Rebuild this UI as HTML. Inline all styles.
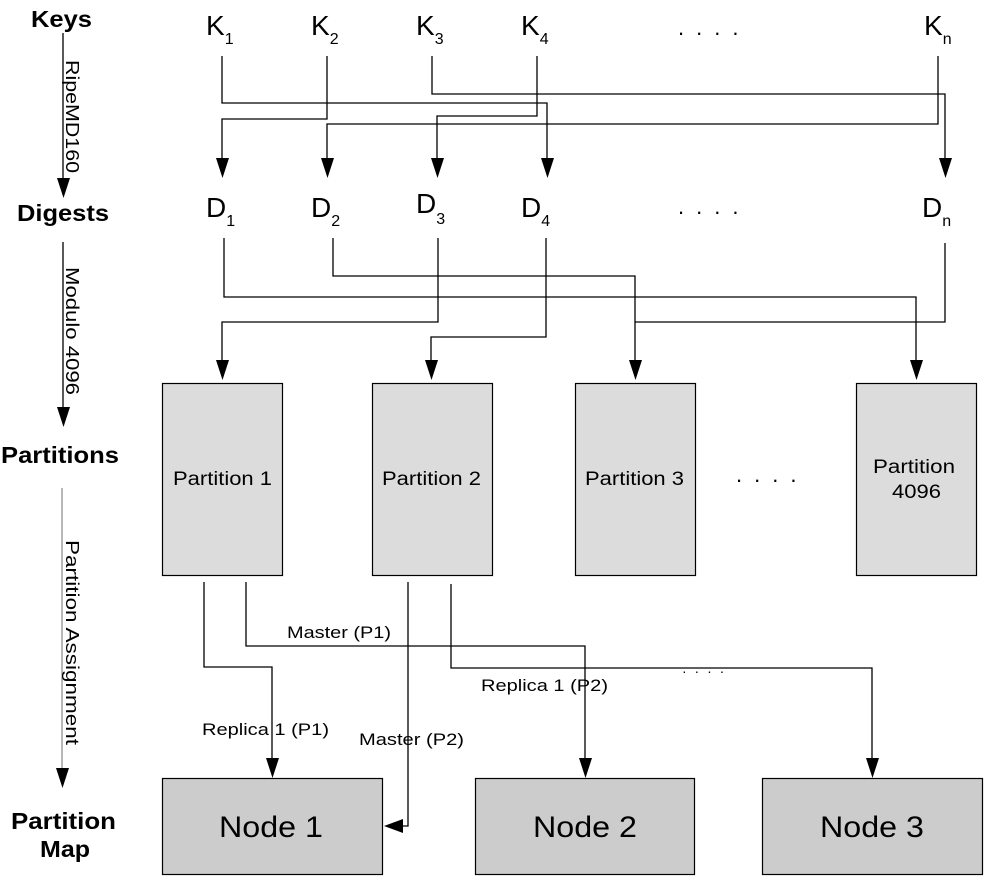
<!DOCTYPE html>
<html><head><meta charset="utf-8"><style>
html,body{margin:0;padding:0;background:#fff;}
svg{display:block;}
text{font-family:"Liberation Sans",Arial,sans-serif;fill:#000;}
</style></head><body>
<svg width="992" height="879" viewBox="0 0 992 879" xmlns="http://www.w3.org/2000/svg">
<g stroke="#000" stroke-width="1.3" fill="none">
<polyline points="222,56 222,103 547,103 547,160"/>
<polyline points="327,56 327,119 222,119 222,160"/>
<polyline points="432,56 432,94 945,94 945,160"/>
<polyline points="537,56 537,116 437,116 437,160"/>
<polyline points="938,56 938,124 327,124 327,160"/>
<polyline points="224,238 224,297 916,297 916,362"/>
<polyline points="333,238 333,276 635,276 635,362"/>
<polyline points="438,238 438,322 222,322 222,362"/>
<polyline points="546,238 546,337 431,337 431,362"/>
<polyline points="945,243 945,322 635,322"/>
<polyline points="204,582 204,667 272,667 272,760"/>
<polyline points="246,582 246,646 585,646 585,760"/>
<polyline points="408,582 408,826 401,826"/>
<polyline points="451,584 451,668 872,668 872,760"/>
<line x1="63" y1="33" x2="63" y2="180"/>
<line x1="63" y1="242" x2="63" y2="408"/>
</g>
<line x1="62" y1="488" x2="62" y2="770" stroke="#888" stroke-width="1.2"/>
<g fill="#000">
<polygon points="216,158 229,158 222.5,178"/>
<polygon points="321,158 334,158 327.5,178"/>
<polygon points="431,158 444,158 437.5,178"/>
<polygon points="541,158 554,158 547.5,178"/>
<polygon points="939,158 952,158 945.5,178"/>
<polygon points="216,360 229,360 222.5,380"/>
<polygon points="425,360 438,360 431.5,380"/>
<polygon points="629,360 642,360 635.5,380"/>
<polygon points="910,360 923,360 916.5,380"/>
<polygon points="266,758 279,758 272.5,778"/>
<polygon points="579,758 592,758 585.5,778"/>
<polygon points="866,758 879,758 872.5,778"/>
<polygon points="403,819 403,833 384,826"/>
<polygon points="57,178 70,178 63.5,198"/>
<polygon points="57,407 70,407 63.5,427"/>
<polygon points="56,768 69,768 62.5,788"/>
</g>
<g stroke="#000" stroke-width="1.2" fill="#dcdcdc">
<rect x="162.5" y="383.5" width="120" height="192"/>
<rect x="372.5" y="383.5" width="120" height="192"/>
<rect x="575.5" y="383.5" width="120" height="192"/>
<rect x="856.5" y="383.5" width="120" height="192"/>
</g>
<g stroke="#000" stroke-width="1.2" fill="#cccccc">
<rect x="162.5" y="778.5" width="220" height="96"/>
<rect x="475.5" y="778.5" width="219" height="96"/>
<rect x="762.5" y="778.5" width="220" height="96"/>
</g>
<g font-size="19" lengthAdjust="spacingAndGlyphs">
<text x="173" y="485" textLength="99" lengthAdjust="spacingAndGlyphs">Partition 1</text>
<text x="382" y="485" textLength="99" lengthAdjust="spacingAndGlyphs">Partition 2</text>
<text x="585" y="485" textLength="99" lengthAdjust="spacingAndGlyphs">Partition 3</text>
<text x="873" y="473" textLength="82" lengthAdjust="spacingAndGlyphs">Partition</text>
<text x="892" y="498" textLength="49" lengthAdjust="spacingAndGlyphs">4096</text>
</g>
<g font-size="30">
<text x="219" y="837" textLength="104" lengthAdjust="spacingAndGlyphs">Node 1</text>
<text x="533" y="837" textLength="104" lengthAdjust="spacingAndGlyphs">Node 2</text>
<text x="820" y="837" textLength="104" lengthAdjust="spacingAndGlyphs">Node 3</text>
</g>
<g font-size="17">
<text x="287" y="638" textLength="104" lengthAdjust="spacingAndGlyphs">Master (P1)</text>
<text x="202" y="735" textLength="127" lengthAdjust="spacingAndGlyphs">Replica 1 (P1)</text>
<text x="359" y="745" textLength="105" lengthAdjust="spacingAndGlyphs">Master (P2)</text>
<text x="481" y="691" textLength="127" lengthAdjust="spacingAndGlyphs">Replica 1 (P2)</text>
</g>
<text x="682" y="676" font-size="14" letter-spacing="2">· · · ·</text>
<g font-size="23" font-weight="bold">
<text x="31" y="27" textLength="61" lengthAdjust="spacingAndGlyphs">Keys</text>
<text x="17" y="221" textLength="92" lengthAdjust="spacingAndGlyphs">Digests</text>
<text x="1" y="463" textLength="118" lengthAdjust="spacingAndGlyphs">Partitions</text>
<text x="11" y="829" textLength="105" lengthAdjust="spacingAndGlyphs">Partition</text>
<text x="40" y="857" textLength="50" lengthAdjust="spacingAndGlyphs">Map</text>
</g>
<g font-size="18">
<text transform="translate(66,60) rotate(90)" textLength="113" lengthAdjust="spacingAndGlyphs">RipeMD160</text>
<text transform="translate(66,267) rotate(90)" textLength="128" lengthAdjust="spacingAndGlyphs">Modulo 4096</text>
<text transform="translate(66,540) rotate(90)" textLength="205" lengthAdjust="spacingAndGlyphs">Partition Assignment</text>
</g>
<g font-size="28">
<text x="206" y="35">K<tspan font-size="16" dy="9">1</tspan></text>
<text x="311" y="35">K<tspan font-size="16" dy="9">2</tspan></text>
<text x="416" y="35">K<tspan font-size="16" dy="9">3</tspan></text>
<text x="521" y="35">K<tspan font-size="16" dy="9">4</tspan></text>
<text x="924" y="35">K<tspan font-size="16" dy="9">n</tspan></text>
<text x="206" y="217">D<tspan font-size="16" dy="9">1</tspan></text>
<text x="311" y="217">D<tspan font-size="16" dy="9">2</tspan></text>
<text x="416" y="213">D<tspan font-size="16" dy="11">3</tspan></text>
<text x="521" y="217">D<tspan font-size="16" dy="9">4</tspan></text>
<text x="922" y="217">D<tspan font-size="16" dy="9">n</tspan></text>
</g>
<g font-size="22">
<text x="678" y="35" letter-spacing="12">....</text>
<text x="678" y="214" letter-spacing="12">....</text>
<text x="736" y="482" letter-spacing="12">....</text>
</g>
</svg>
</body></html>
